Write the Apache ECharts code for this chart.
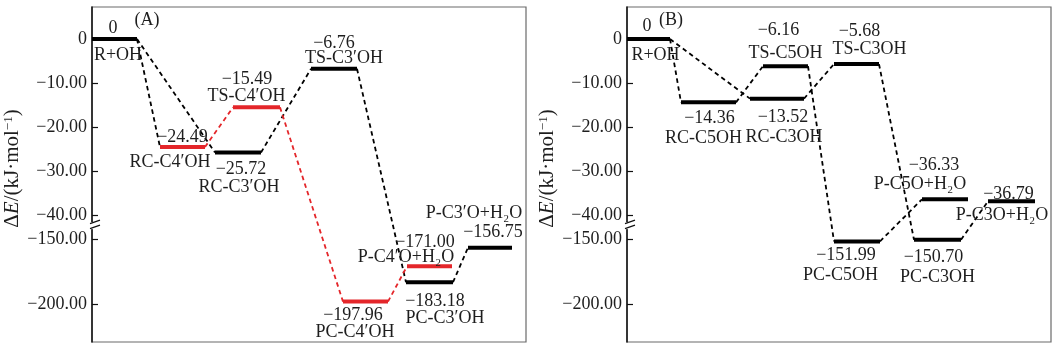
<!DOCTYPE html>
<html>
<head>
<meta charset="utf-8">
<script src="https://cdn.jsdelivr.net/npm/echarts@6/dist/echarts.min.js"></script>
<style>
html,body{margin:0;padding:0;background:#fff;}
#chart{width:1060px;height:349px;}
</style>
</head>
<body>
<div id="chart"></div>
<script>
// ================= DATA =================
// Panel (A)
const levelNamesA = ['R+OH', 'RC-C4′OH', 'RC-C3′OH', 'TS-C4′OH', 'TS-C3′OH', 'PC-C4′OH', 'PC-C3′OH', 'P-C4′O+H₂O', 'P-C3′O+H₂O'];
const energiesA = [0, -24.49, -25.72, -15.49, -6.76, -197.96, -183.18, -171.00, -156.75];
// reaction coordinate where each level starts / ends
const coordStartA = [0, 6.8, 12.3, 14.1, 21.9, 25.1, 31.4, 31.5, 37.6];
const coordEndA = [4.5, 11.3, 16.9, 18.8, 26.5, 29.6, 36.1, 36.0, 42.0];
const pathwayA = ['common', 'C4', 'C3', 'C4', 'C3', 'C4', 'C3', 'C4', 'C3'];
const linkFromA = [0, 0, 1, 2, 3, 4, 5, 6];
const linkToA = [1, 2, 3, 4, 5, 6, 7, 8];
const linkPathwayA = ['common', 'common', 'C4', 'C3', 'C4', 'C3', 'C4', 'C3'];

// Panel (B)
const levelNamesB = ['R+OH', 'RC-C5OH', 'RC-C3OH', 'TS-C5OH', 'TS-C3OH', 'PC-C5OH', 'PC-C3OH', 'P-C5O+H₂O', 'P-C3O+H₂O'];
const energiesB = [0, -14.36, -13.52, -6.16, -5.68, -151.99, -150.70, -36.33, -36.79];
const coordStartB = [0, 5.4, 12.3, 13.6, 20.7, 20.7, 28.7, 29.5, 36.1];
const coordEndB = [4.3, 10.9, 17.7, 18.1, 25.2, 25.3, 33.4, 34.1, 40.8];
const pathwayB = ['common', 'C5', 'C3', 'C5', 'C3', 'C5', 'C3', 'C5', 'C3'];
const linkFromB = [0, 0, 1, 2, 3, 4, 5, 6];
const linkToB = [1, 2, 3, 4, 5, 6, 7, 8];
const linkPathwayB = ['common', 'common', 'C5', 'C3', 'C5', 'C3', 'C5', 'C3'];

// Axis ticks (broken axis: -40 ... -150)
const yTickValues = [0, -10, -20, -30, -40, -150, -200];
const yTickLabels = ['0', '−10.00', '−20.00', '−30.00', '−40.00', '−150.00', '−200.00'];
const breakUpper = -40;
const breakLower = -150;
const panelTags = ['(A)', '(B)'];
const yAxisTitle = '{g|Δ}{i|E}{g|/(kJ·mol}{s|−1}{g|)}';

// ================= LAYOUT / STYLE =================
const FONT = '"Liberation Serif","Times New Roman",serif';
const TEXT_COLOR = '#1e1e1e';
const LABEL_SIZE = 18;
const PATH_COLORS = {common: '#000000', C3: '#000000', C4: '#e4262a', C5: '#000000'};
const BREAK_GAP = 5.28;      // axis units between -40 and -150
const LOWER_SCALE = 0.2969;  // compression of the lower segment
const Y_MIN = -68.67, Y_MAX = 7.25;
const X_MAX = [43.4, 42.4];

// label offsets (px) relative to each level's centre: [dx, dy]
const valueOffsetA = [[-1.5,-11],[0,-10],[3,17],[-9.5,-28],[0,-26],[-12.5,14],[5.5,19.5],[-4.5,-24],[3,-15]];
const nameOffsetA  = [[3.5,16],[-12.5,15],[1,35],[-10,-11],[10,-11],[-10.5,30.5],[15.5,36],[-23.5,-9.5],[-16,-34]];
const valueOffsetB = [[-1.5,-13],[1,16],[6,19],[-7,-35.5],[3,-33],[-11,13.5],[-4,17.6],[-11,-34],[-3,-7.5]];
const nameOffsetB  = [[7,16],[-5,35.5],[7,38.5],[0,-12.5],[13,-14.6],[-16.5,34],[0,38],[-25,-15],[-9.5,13.6]];

// ================= HELPERS =================
function toAxis(v) {
  if (v >= breakUpper) return v;
  return breakUpper - BREAK_GAP - (breakLower - v) * LOWER_SCALE;
}
const tickAxisValues = yTickValues.map(toAxis);
function tickLabel(v) {
  let best = 0, bd = Infinity;
  tickAxisValues.forEach((t, i) => { const d = Math.abs(t - v); if (d < bd) { bd = d; best = i; } });
  return yTickLabels[best];
}
function fmtEnergy(v) {
  return v === 0 ? '0' : '−' + Math.abs(v).toFixed(2);
}
function textEl(x, y, text) {
  return {type: 'text', x: x, y: y, style: {text: text, fill: TEXT_COLOR, font: LABEL_SIZE + 'px ' + FONT, align: 'center', verticalAlign: 'middle'}};
}

function levelSeries(g, names, energies, starts, ends, pathways, valOff, nameOff) {
  const data = names.map((n, i) => [starts[i], ends[i], toAxis(energies[i]), i]);
  return {
    type: 'custom', xAxisIndex: g, yAxisIndex: g, data: data, z: 4, silent: true, clip: false,
    encode: {x: [0, 1], y: 2},
    renderItem: function (params, api) {
      const i = api.value(3);
      const p0 = api.coord([api.value(0), api.value(2)]);
      const p1 = api.coord([api.value(1), api.value(2)]);
      const cx = (p0[0] + p1[0]) / 2, cy = p0[1];
      return {type: 'group', children: [
        {type: 'line', shape: {x1: p0[0], y1: p0[1], x2: p1[0], y2: p1[1]},
         style: {stroke: PATH_COLORS[pathways[i]], lineWidth: 4}},
        textEl(cx + valOff[i][0], cy + valOff[i][1], fmtEnergy(energies[i])),
        textEl(cx + nameOff[i][0], cy + nameOff[i][1], names[i])
      ]};
    }
  };
}

function linkSeries(g, energies, starts, ends, from, to, pathways) {
  const data = from.map((f, k) => [ends[f], toAxis(energies[f]), starts[to[k]], toAxis(energies[to[k]]), k]);
  return {
    type: 'custom', xAxisIndex: g, yAxisIndex: g, data: data, z: 3, silent: true, clip: false,
    encode: {x: [0, 2], y: [1, 3]},
    renderItem: function (params, api) {
      const k = api.value(4);
      const a = api.coord([api.value(0), api.value(1)]);
      const b = api.coord([api.value(2), api.value(3)]);
      return {type: 'line', shape: {x1: a[0], y1: a[1], x2: b[0], y2: b[1]},
        style: {stroke: PATH_COLORS[pathways[k]], lineWidth: 1.8, lineDash: [4.5, 3.5]}};
    }
  };
}

function breakSeries(g) {
  const mid = (toAxis(breakUpper) + toAxis(breakLower)) / 2;
  return {
    type: 'custom', xAxisIndex: g, yAxisIndex: g, data: [[0, mid]], z: 5, silent: true, clip: false,
    encode: {x: 0, y: 1},
    renderItem: function (params, api) {
      const p = api.coord([api.value(0), api.value(1)]);
      const x = p[0], y = p[1] - 2;
      return {type: 'group', children: [
        {type: 'rect', shape: {x: x - 3, y: y - 3, width: 6, height: 7}, style: {fill: '#fff'}},
        {type: 'line', shape: {x1: x - 2, y1: y - 1.5, x2: x + 8, y2: y - 5}, style: {stroke: '#111', lineWidth: 1.2}},
        {type: 'line', shape: {x1: x - 2, y1: y + 3.5, x2: x + 8, y2: y}, style: {stroke: '#111', lineWidth: 1.2}}
      ]};
    }
  };
}

function yAxisCfg(g) {
  return {
    gridIndex: g, type: 'value', min: Y_MIN, max: Y_MAX,
    axisLine: {show: true, onZero: false, lineStyle: {color: '#111', width: 1.5}},
    axisTick: {show: true, inside: true, length: 6, customValues: tickAxisValues, lineStyle: {color: '#111', width: 1.2}},
    axisLabel: {show: true, customValues: tickAxisValues, formatter: tickLabel, fontFamily: FONT, fontSize: 18, color: TEXT_COLOR, margin: 5},
    splitLine: {show: false},
    name: yAxisTitle, nameLocation: 'middle', nameRotate: 90, nameGap: 63,
    nameTextStyle: {fontFamily: FONT, fontSize: 21, color: TEXT_COLOR, padding: [0, 0, 0, 12],
      rich: {g: {fontFamily: FONT, fontSize: 21, color: TEXT_COLOR},
             i: {fontFamily: FONT, fontSize: 21, fontStyle: 'italic', color: TEXT_COLOR},
             s: {fontFamily: FONT, fontSize: 13, color: TEXT_COLOR, verticalAlign: 'top'}}}
  };
}

const chart = echarts.init(document.getElementById('chart'), null, {renderer: 'canvas'});
chart.setOption({
  animation: false,
  backgroundColor: '#fff',
  grid: [
    {left: 92, top: 7, width: 434, height: 335, show: true, borderColor: '#6a6a6a', borderWidth: 1.2},
    {left: 627, top: 7, width: 424, height: 335, show: true, borderColor: '#6a6a6a', borderWidth: 1.2}
  ],
  xAxis: [
    {gridIndex: 0, type: 'value', min: 0, max: X_MAX[0], show: false},
    {gridIndex: 1, type: 'value', min: 0, max: X_MAX[1], show: false}
  ],
  yAxis: [yAxisCfg(0), yAxisCfg(1)],
  graphic: [
    {type: 'text', x: 147, y: 20, style: {text: panelTags[0], fill: TEXT_COLOR, font: LABEL_SIZE + 'px ' + FONT, align: 'center', verticalAlign: 'middle'}},
    {type: 'text', x: 671, y: 20, style: {text: panelTags[1], fill: TEXT_COLOR, font: LABEL_SIZE + 'px ' + FONT, align: 'center', verticalAlign: 'middle'}}
  ],
  series: [
    linkSeries(0, energiesA, coordStartA, coordEndA, linkFromA, linkToA, linkPathwayA),
    levelSeries(0, levelNamesA, energiesA, coordStartA, coordEndA, pathwayA, valueOffsetA, nameOffsetA),
    breakSeries(0),
    linkSeries(1, energiesB, coordStartB, coordEndB, linkFromB, linkToB, linkPathwayB),
    levelSeries(1, levelNamesB, energiesB, coordStartB, coordEndB, pathwayB, valueOffsetB, nameOffsetB),
    breakSeries(1)
  ]
});
</script>
</body>
</html>
